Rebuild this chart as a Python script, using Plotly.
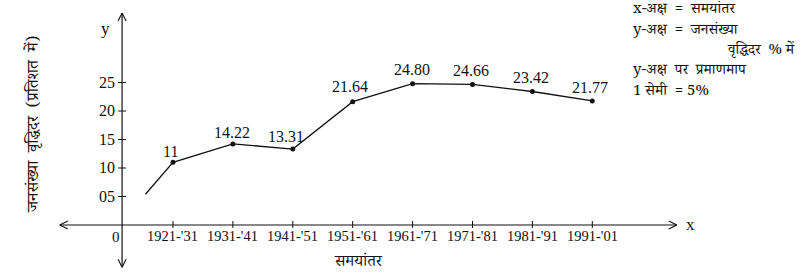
import plotly.graph_objects as go

# ---- data ----
periods = ["1921-'31", "1931-'41", "1941-'51", "1951-'61",
           "1961-'71", "1971-'81", "1981-'91", "1991-'01"]
growth_rate = [11, 14.22, 13.31, 21.64, 24.80, 24.66, 23.42, 21.77]
growth_labels = ["11", "14.22", "13.31", "21.64", "24.80", "24.66", "23.42", "21.77"]
lead_in_x = [0.54]          # line enters from before the first period
lead_in_y = [5.4]
y_ticks = [5, 10, 15, 20, 25]
y_tick_labels = ["05", "10", "15", "20", "25"]

x_pos = list(range(1, len(periods) + 1))
origin_x = 0.15
x_axis_ends = (-0.89, 9.41)
y_axis_ends = (-7.4, 37.2)

SERIF = "Liberation Serif, Times New Roman, serif"
DEVA = "Noto Serif Devanagari, Noto Sans Devanagari, Lohit Devanagari, FreeSerif, Mangal, serif"
BLACK = "#111111"
SP = "&nbsp;"

fig = go.Figure()

fig.add_trace(go.Scatter(
    x=lead_in_x + x_pos, y=lead_in_y + growth_rate,
    mode="lines", line=dict(color=BLACK, width=1.3),
    hoverinfo="skip", showlegend=False))
fig.add_trace(go.Scatter(
    x=x_pos, y=growth_rate, mode="markers",
    marker=dict(color=BLACK, size=5), showlegend=False))

shapes = []
ann = []

# axis lines
shapes.append(dict(type="line", xref="x", yref="y", x0=x_axis_ends[0], x1=x_axis_ends[1],
                   y0=0, y1=0, line=dict(color=BLACK, width=1.2)))
shapes.append(dict(type="line", xref="x", yref="y", x0=origin_x, x1=origin_x,
                   y0=y_axis_ends[0], y1=y_axis_ends[1], line=dict(color=BLACK, width=1.2)))


def open_head(xa, ya, dx, dy):
    """open V arrowhead at data point (xa, ya); (dx, dy) pixel direction of the wings"""
    out = []
    for s in (-1, 1):
        if dx != 0:
            x1, y1 = dx, 4 * s
        else:
            x1, y1 = 4 * s, dy
        out.append(dict(type="line", xref="x", yref="y", xsizemode="pixel", ysizemode="pixel",
                        xanchor=xa, yanchor=ya, x0=0, y0=0, x1=x1, y1=y1,
                        line=dict(color=BLACK, width=1.1)))
    return out


shapes += open_head(x_axis_ends[1], 0, -8, 0)
shapes += open_head(x_axis_ends[0], 0, 8, 0)
shapes += open_head(origin_x, y_axis_ends[1], 0, -8)
shapes += open_head(origin_x, y_axis_ends[0], 0, 8)

for xv in x_pos:
    shapes.append(dict(type="line", xref="x", yref="y", ysizemode="pixel", yanchor=0,
                       x0=xv, x1=xv, y0=-3, y1=4, line=dict(color=BLACK, width=1)))
for yv in y_ticks:
    shapes.append(dict(type="line", xref="x", yref="y", xsizemode="pixel", xanchor=origin_x,
                       x0=-4, x1=4, y0=yv, y1=yv, line=dict(color=BLACK, width=1)))

# x tick labels
for xv, lab in zip(x_pos, periods):
    ann.append(dict(x=xv, y=0, xref="x", yref="y", text=lab, showarrow=False,
                    yanchor="middle", yshift=-11, font=dict(family=SERIF, size=14.5, color=BLACK)))
# y tick labels
for yv, lab in zip(y_ticks, y_tick_labels):
    ann.append(dict(x=origin_x, y=yv, xref="x", yref="y", text=lab, showarrow=False,
                    xanchor="right", yanchor="middle", xshift=-5,
                    font=dict(family=SERIF, size=16, color=BLACK)))
# value labels
xshifts = [-2, -1, -7, -3, -1, -2, -1, -2]
yshifts = [11, 11, 13, 15, 14, 14, 14, 13]
for xv, yv, lab, dx, dy in zip(x_pos, growth_rate, growth_labels, xshifts, yshifts):
    ann.append(dict(x=xv, y=yv, xref="x", yref="y", text=lab, showarrow=False,
                    xshift=dx, yshift=dy, yanchor="middle",
                    font=dict(family=SERIF, size=16, color=BLACK)))

# origin label
ann.append(dict(x=origin_x, y=0, xref="x", yref="y", text="0", showarrow=False,
                xshift=-6, yshift=-12, yanchor="middle",
                font=dict(family=SERIF, size=15, color=BLACK)))

# pixel-positioned texts (converted to paper fractions below)
px_ann = []
px_ann.append(dict(x=106, y=28, text="y", font=dict(family=SERIF, size=17, color=BLACK)))
px_ann.append(dict(x=690, y=224, text="x", font=dict(family=SERIF, size=17, color=BLACK)))
px_ann.append(dict(x=358, y=263, text="समयांतर", font=dict(family=DEVA, size=16, color=BLACK)))
px_ann.append(dict(x=35, y=125, text="जनसंख्या  वृद्धिदर  (प्रतिशत  में)", textangle=-90,
                   font=dict(family=DEVA, size=16.5, color=BLACK)))

legend_lines = [("x-अक्ष" + SP * 2 + "=" + SP * 2 + "समयांतर", 631, 11, "left"),
                ("y-अक्ष" + SP * 2 + "=" + SP * 2 + "जनसंख्या", 631, 32, "left"),
                ("वृद्धिदर" + SP * 2 + "%" + SP + "में", 797, 52, "right"),
                ("y-अक्ष" + SP * 2 + "पर" + SP * 2 + "प्रमाणमाप", 631, 71, "left"),
                ("1" + SP + "सेमी" + SP * 2 + "=" + SP + "5%", 631, 93, "left")]
for txt, px, py, anc in legend_lines:
    px_ann.append(dict(x=px, y=py, text=txt, xanchor=anc,
                       font=dict(family=DEVA, size=15, color=BLACK)))

for a in px_ann:
    a.setdefault("xanchor", "center")
    a.setdefault("yanchor", "middle")
    a.update(xref="paper", yref="paper", showarrow=False,
             x=a["x"] / 801, y=1 - a["y"] / 276)
    ann.append(a)

fig.update_layout(
    width=801, height=276, margin=dict(l=0, r=0, t=0, b=0),
    paper_bgcolor="white", plot_bgcolor="white",
    xaxis=dict(range=[-1.888, 11.484], visible=False, fixedrange=True),
    yaxis=dict(range=[-8.947, 39.47], visible=False, fixedrange=True),
    annotations=ann, shapes=shapes, showlegend=False,
)

fig.write_html("out.html")
